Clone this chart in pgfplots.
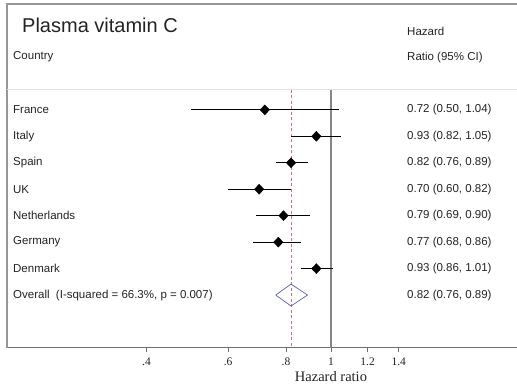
\documentclass[border=0pt]{standalone}
\usepackage{pgfplots}
\pgfplotsset{compat=1.18}
\usepackage{fontspec}
\setmainfont{Liberation Sans}
\newfontfamily\serifft{Liberation Serif}
\definecolor{bordergray}{RGB}{150,150,150}
\definecolor{axisgray}{RGB}{110,110,110}
\definecolor{linegray}{RGB}{225,225,225}
\definecolor{refgray}{RGB}{135,135,135}
\definecolor{dashred}{RGB}{205,110,125}
\definecolor{diamblue}{RGB}{95,95,175}
\definecolor{txt}{RGB}{35,35,35}
\tikzset{lbl/.style={anchor=west, font=\fontsize{11.5}{13}\selectfont, text=txt, inner sep=0pt}}
\begin{document}
\begin{tikzpicture}
\begin{axis}[
  scale only axis, width=510pt, height=344pt,
  xmode=log, xmin=0.2, xmax=2.52, ymin=-3, ymax=10, y dir=reverse,
  axis x line*=bottom, axis y line=none,
  x axis line style={draw=axisgray, line width=1pt, -},
  xtick={0.4,0.6,0.8,1,1.2,1.4}, xticklabels={.4,.6,.8,1,1.2,1.4},
  xminorticks=false, ytick=\empty,
  tick align=outside, major tick length=4pt,
  xtick style={draw=axisgray, line width=0.8pt},
  xticklabel style={font=\serifft\fontsize{11.5}{13}\selectfont, text=txt, yshift=-2pt},
  /pgf/number format/assume math mode=true,
  clip=false,
]
% frame top and left
\draw[bordergray, line width=1.2pt] (axis cs:0.2,10) -- (axis cs:0.2,-3) -- (axis cs:2.52,-3);
% header separator
\draw[linegray, line width=1pt] (axis cs:0.2,0.245) -- (axis cs:2.52,0.245);
% reference lines
\addplot[refgray, line width=1.1pt] coordinates {(1,0.245) (1,10)};
\addplot[dashred, line width=0.8pt, dash pattern=on 3pt off 2.5pt] coordinates {(0.82,0.245) (0.82,10)};
% confidence intervals
\addplot[black, line width=1.2pt] coordinates {(0.50,1) (1.04,1)};
\addplot[black, line width=1.2pt] coordinates {(0.82,2) (1.05,2)};
\addplot[black, line width=1.2pt] coordinates {(0.76,3) (0.89,3)};
\addplot[black, line width=1.2pt] coordinates {(0.60,4) (0.82,4)};
\addplot[black, line width=1.2pt] coordinates {(0.69,5) (0.90,5)};
\addplot[black, line width=1.2pt] coordinates {(0.68,6) (0.86,6)};
\addplot[black, line width=1.2pt] coordinates {(0.86,7) (1.01,7)};
% point estimates
\addplot[only marks, mark=diamond*, mark size=5pt, mark options={fill=black, draw=black, xscale=1.25}] coordinates {
(0.72,1) (0.93,2) (0.82,3) (0.70,4) (0.79,5) (0.77,6) (0.93,7)};
% overall diamond
\addplot[diamblue, line width=0.7pt] coordinates {(0.76,8) (0.82,7.585) (0.89,8) (0.82,8.415) (0.76,8)};
% text
\node[anchor=west, font=\fontsize{20}{24}\selectfont, text=txt, inner sep=0pt] at ([xshift=15pt]axis cs:0.2,-2.2) {Plasma vitamin C};
\node[lbl] at ([xshift=6pt]axis cs:0.2,-1) {Country};
\node[lbl] at ([xshift=400pt]axis cs:0.2,-1.95) {Hazard};
\node[lbl] at ([xshift=400pt]axis cs:0.2,-0.98) {Ratio (95\% CI)};
\node[lbl] at ([xshift=6pt]axis cs:0.2,1) {France};
\node[lbl] at ([xshift=6pt]axis cs:0.2,2) {Italy};
\node[lbl] at ([xshift=6pt]axis cs:0.2,3) {Spain};
\node[lbl] at ([xshift=6pt]axis cs:0.2,4) {UK};
\node[lbl] at ([xshift=6pt]axis cs:0.2,5) {Netherlands};
\node[lbl] at ([xshift=6pt]axis cs:0.2,6) {Germany};
\node[lbl] at ([xshift=6pt]axis cs:0.2,7) {Denmark};
\node[lbl] at ([xshift=6pt]axis cs:0.2,8) {Overall\ \ (I-squared = 66.3\%, p = 0.007)};
\node[lbl] at ([xshift=400pt]axis cs:0.2,1) {0.72 (0.50, 1.04)};
\node[lbl] at ([xshift=400pt]axis cs:0.2,2) {0.93 (0.82, 1.05)};
\node[lbl] at ([xshift=400pt]axis cs:0.2,3) {0.82 (0.76, 0.89)};
\node[lbl] at ([xshift=400pt]axis cs:0.2,4) {0.70 (0.60, 0.82)};
\node[lbl] at ([xshift=400pt]axis cs:0.2,5) {0.79 (0.69, 0.90)};
\node[lbl] at ([xshift=400pt]axis cs:0.2,6) {0.77 (0.68, 0.86)};
\node[lbl] at ([xshift=400pt]axis cs:0.2,7) {0.93 (0.86, 1.01)};
\node[lbl] at ([xshift=400pt]axis cs:0.2,8) {0.82 (0.76, 0.89)};
\node[font=\serifft\fontsize{14.5}{16}\selectfont, text=txt] at ([yshift=-29pt]axis cs:1,10) {Hazard ratio};
\end{axis}
\pgfresetboundingbox
\path ([shift={(-7pt,-39pt)}]current axis.south west) rectangle ([shift={(0pt,4pt)}]current axis.north east);
\end{tikzpicture}
\end{document}
